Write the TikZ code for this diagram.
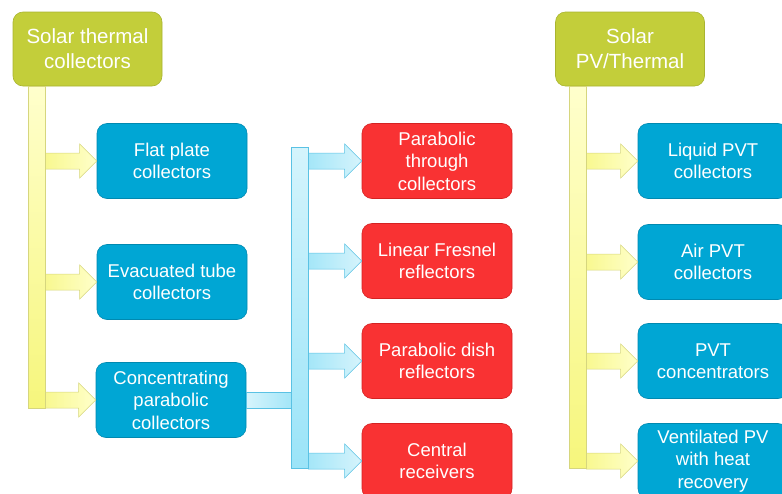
\documentclass[tikz,border=0pt]{standalone}
\usepackage{fontspec}
\setmainfont{Liberation Sans}
\usetikzlibrary{calc}

\definecolor{grnfill}{HTML}{C3CE3A}
\definecolor{grndraw}{HTML}{A9B430}
\definecolor{bluefill}{HTML}{00A6D4}
\definecolor{bluedraw}{HTML}{0089B0}
\definecolor{redfill}{HTML}{F93233}
\definecolor{reddraw}{HTML}{D42222}
\definecolor{ytop}{HTML}{FFFFCC}
\definecolor{ybot}{HTML}{F6F67C}
\definecolor{ydraw}{HTML}{D6D67E}
\definecolor{ylight}{HTML}{FFFFCA}
\definecolor{ydark}{HTML}{F8F890}
\definecolor{btop}{HTML}{D4F4FC}
\definecolor{bbot}{HTML}{9BE4F8}
\definecolor{bdraw}{HTML}{5AC2E4}
\definecolor{blight}{HTML}{D6F4FC}
\definecolor{bdark}{HTML}{A4E6F8}

\tikzset{
  x=1pt, y=1pt,
  box/.style={rounded corners=10pt, minimum width=150pt, minimum height=75pt,
    inner sep=0pt, align=center, text=white, line width=0.6pt,
    font=\fontsize{18.5}{22.5}\selectfont},
  headbox/.style={box, fill=grnfill, draw=grndraw, minimum width=149pt,
    minimum height=74pt, font=\fontsize{20.5}{25}\selectfont},
  bluebox/.style={box, fill=bluefill, draw=bluedraw},
  redbox/.style={box, fill=redfill, draw=reddraw},
  ybar/.style={rectangle, draw=ydraw, top color=ytop, bottom color=ybot,
    line width=0.5pt, minimum width=17pt, inner sep=0pt, anchor=north},
  bbar/.style={rectangle, draw=bdraw, top color=btop, bottom color=bbot,
    line width=0.5pt, minimum width=17pt, inner sep=0pt, anchor=north},
  yarrow/.style={draw=ydraw, left color=ydark, right color=ylight, line width=0.5pt},
  barrow/.style={draw=bdraw, left color=bdark, right color=blight, line width=0.5pt},
  bconn/.style={draw=bdraw, left color=blight, right color=bdark, line width=0.5pt},
}

% block arrow from the x of #2 to the point #3, along the height of #2
\newcommand\fatarrow[3]{%
  \path[#1] let \p1=(#2), \p2=(#3) in
    (\x1,\y1+8pt) -- (\x2-17pt,\y1+8pt) -- (\x2-17pt,\y1+17pt) -- (\x2,\y1)
    -- (\x2-17pt,\y1-17pt) -- (\x2-17pt,\y1-8pt) -- (\x1,\y1-8pt) -- cycle;}

\begin{document}
\begin{tikzpicture}
\useasboundingbox (0,0) rectangle (782,-493);
\clip (0,0) rectangle (782,-493);

% headings
\node[headbox] (st)  at (87.5,-49) {Solar thermal\\collectors};
\node[headbox] (pvt) at (630,-49)  {Solar\\PV/Thermal};

% solar thermal branch
\node[bluebox] (fp) at (172,-161)   {Flat plate\\collectors};
\node[bluebox] (ev) at (172,-282) {Evacuated tube\\collectors};
\node[bluebox] (cp) at (171,-400) {Concentrating\\parabolic\\collectors};

% concentrating types
\node[redbox] (ptc) at (437,-161) {Parabolic\\through\\collectors};
\node[redbox] (lfr) at (437,-261) {Linear Fresnel\\reflectors};
\node[redbox] (pdr) at (437,-361) {Parabolic dish\\reflectors};
\node[redbox] (cr)  at (437,-461) {Central\\receivers};

% PV/thermal branch
\node[bluebox] (lpvt) at (713,-161) {Liquid PVT\\collectors};
\node[bluebox] (apvt) at (713,-262) {Air PVT\\collectors};
\node[bluebox] (cpvt) at (713,-361) {PVT\\concentrators};
\node[bluebox] (vpv)  at (713,-461) {Ventilated PV\\with heat\\recovery};

% vertical bars
\path (36.5,-86)  node[ybar, minimum height=322pt] (sbar) {};
\path (577.5,-86) node[ybar, minimum height=382pt] (pbar) {};
\path (299.5,-147) node[bbar, minimum height=321pt] (cbar) {};

% arrows
\fatarrow{yarrow}{sbar.east |- fp.west}{fp.west}
\fatarrow{yarrow}{sbar.east |- ev.west}{ev.west}
\fatarrow{yarrow}{sbar.east |- cp.west}{cp.west}
\fatarrow{barrow}{cbar.east |- ptc.west}{ptc.west}
\fatarrow{barrow}{cbar.east |- lfr.west}{lfr.west}
\fatarrow{barrow}{cbar.east |- pdr.west}{pdr.west}
\fatarrow{barrow}{cbar.east |- cr.west}{cr.west}
\fatarrow{yarrow}{pbar.east |- lpvt.west}{lpvt.west}
\fatarrow{yarrow}{pbar.east |- apvt.west}{apvt.west}
\fatarrow{yarrow}{pbar.east |- cpvt.west}{cpvt.west}
\fatarrow{yarrow}{pbar.east |- vpv.west}{vpv.west}

% link from the concentrating box to its bar
\path[bconn] let \p1=(cp.east), \p2=(cbar.west) in
  (\x1,\y1+8pt) rectangle (\x2,\y1-8pt);

% redraw bars over the arrow roots
\path (36.5,-86)  node[ybar, minimum height=322pt] {};
\path (577.5,-86) node[ybar, minimum height=382pt] {};
\path (299.5,-147) node[bbar, minimum height=321pt] {};
\end{tikzpicture}
\end{document}
